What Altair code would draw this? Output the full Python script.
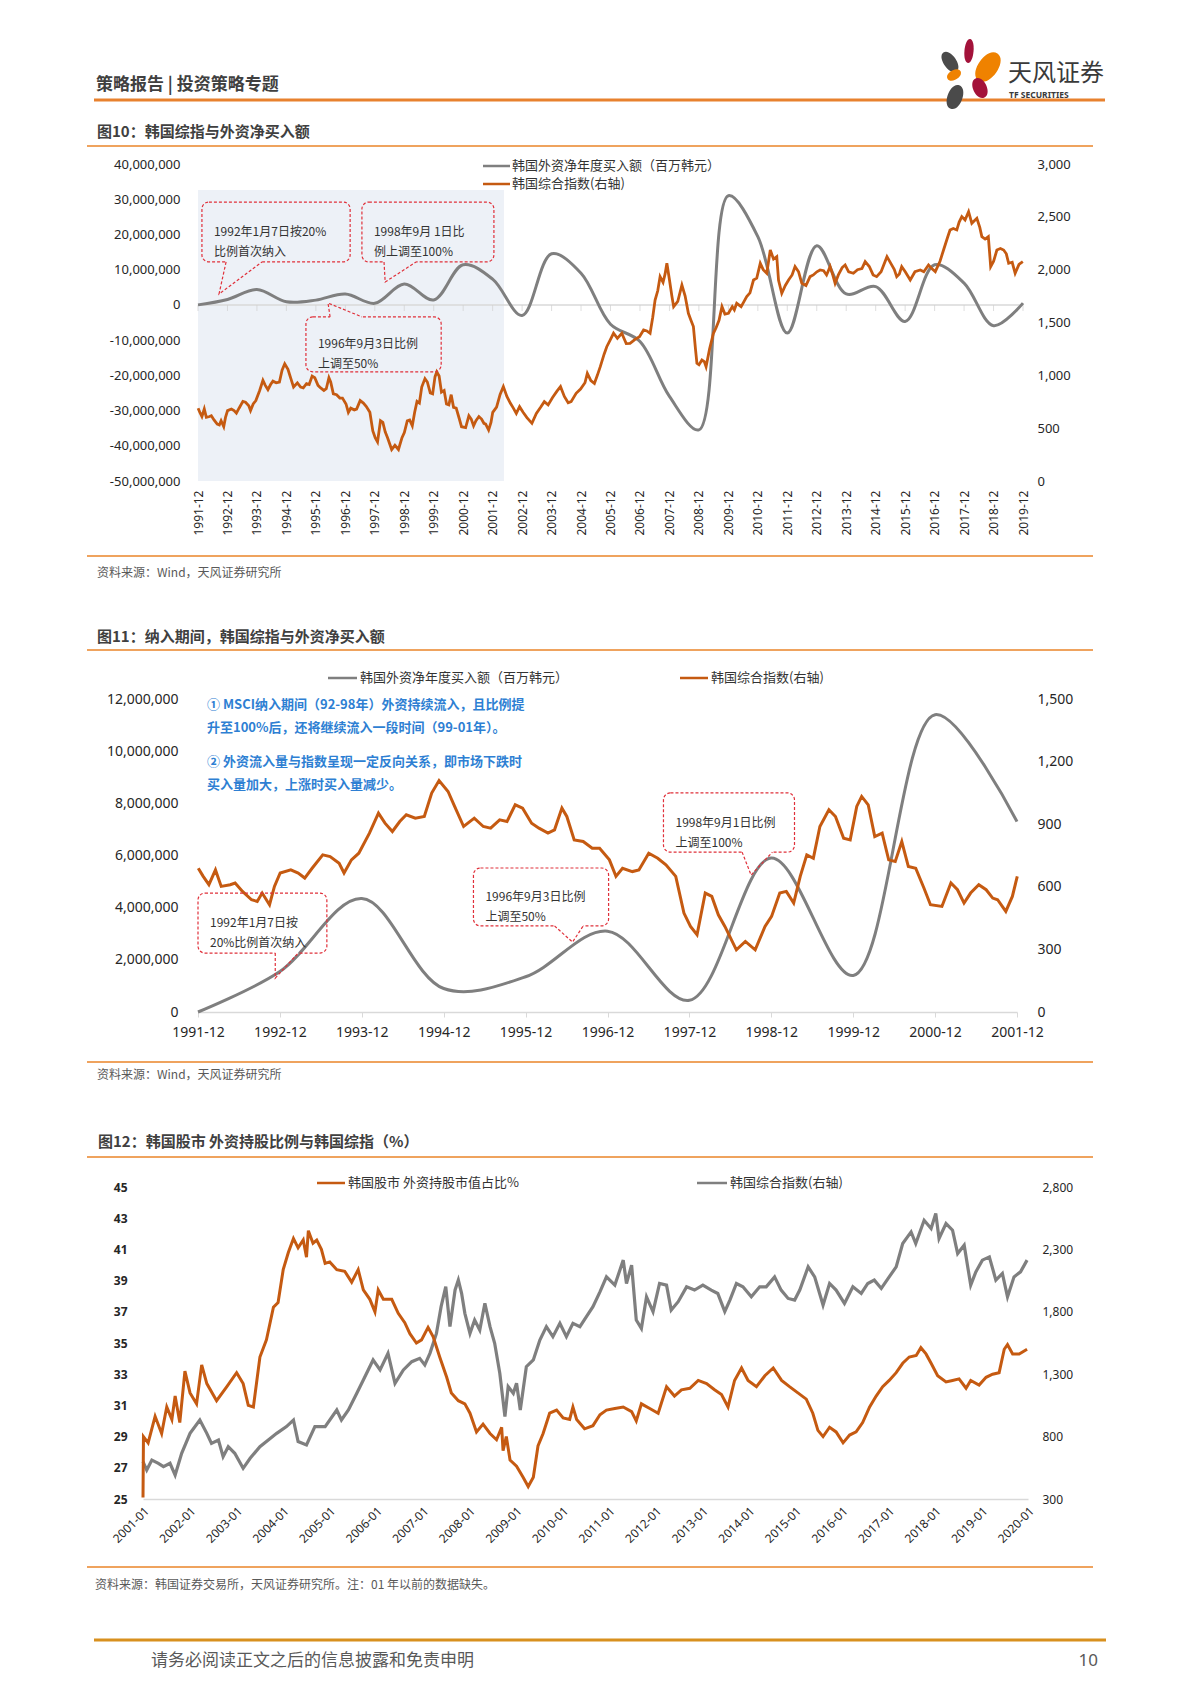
import altair as alt
import pandas as pd

CJK = "Noto Sans CJK SC"
NUM = "Noto Sans"
W = 1184
ORANGE = "#C55A11"
GRAY = "#7F7F7F"
RED = "#E0303A"
SHADE = "#EDF1F7"
LINE_OR = "#EFA35E"

# ---------------- data ----------------
net_buy_dates = ["1991-12", "1992-12", "1993-12", "1994-12", "1995-12", "1996-12", "1997-12",
                 "1998-12", "1999-12", "2000-12", "2001-12", "2002-12", "2003-12", "2004-12",
                 "2005-12", "2006-12", "2007-12", "2008-12", "2009-12", "2010-12", "2011-12",
                 "2012-12", "2013-12", "2014-12", "2015-12", "2016-12", "2017-12", "2018-12", "2019-12"]
net_buy_values = [0, 1550000, 4350000, 900000, 1350000, 3100000, 450000,
                  5900000, 1400000, 11400000, 7300000, -3000000, 14500000, 9000000,
                  -5500000, -10400000, -26000000, -35500000, 31000000, 19400000, -8000000,
                  16800000, 3100000, 5200000, -4700000, 11400000, 6200000, -5900000, 500000]

# KOSPI (monthly), time in decimal years
kospi_t = [1991.92, 1991.98, 1992.05, 1992.13, 1992.20, 1992.31, 1992.37, 1992.46, 1992.57, 1992.64,
           1992.70, 1992.79, 1992.85, 1992.92, 1993.05, 1993.14, 1993.22, 1993.31, 1993.44, 1993.53,
           1993.64, 1993.70, 1993.79, 1993.88, 1994.01, 1994.12, 1994.20, 1994.29, 1994.38, 1994.46,
           1994.57, 1994.68, 1994.77, 1994.86, 1994.97, 1995.05, 1995.16, 1995.29, 1995.40, 1995.49,
           1995.60, 1995.69, 1995.79, 1995.88, 1995.99, 1996.08, 1996.19, 1996.27, 1996.36, 1996.42,
           1996.51, 1996.62, 1996.73, 1996.82, 1996.94, 1997.02, 1997.10, 1997.22, 1997.30, 1997.42,
           1997.53, 1997.63, 1997.75, 1997.85, 1997.93, 1998.01, 1998.11, 1998.19, 1998.27, 1998.35,
           1998.49, 1998.60, 1998.72, 1998.84, 1998.92, 1999.02, 1999.10, 1999.19, 1999.27, 1999.35,
           1999.43, 1999.51, 1999.62, 1999.70, 1999.80, 1999.88, 1999.96, 2000.02, 2000.10, 2000.18,
           2000.27, 2000.35, 2000.43, 2000.51, 2000.59, 2000.68, 2000.78, 2000.86, 2001.00, 2001.11,
           2001.19, 2001.27, 2001.35, 2001.45, 2001.54, 2001.62, 2001.68, 2001.78, 2001.86, 2001.92,
           2002.05, 2002.17, 2002.28, 2002.40, 2002.52, 2002.62, 2002.72, 2002.83, 2002.95, 2003.08,
           2003.25, 2003.40, 2003.55, 2003.67, 2003.80, 2003.95, 2004.10, 2004.22, 2004.35, 2004.48,
           2004.58, 2004.75, 2004.90, 2005.05, 2005.13, 2005.25, 2005.37, 2005.47, 2005.57, 2005.70,
           2005.79, 2005.90, 2006.02, 2006.15, 2006.30, 2006.45, 2006.58, 2006.75, 2006.90, 2007.04,
           2007.15, 2007.26, 2007.35, 2007.43, 2007.52, 2007.60, 2007.70, 2007.77, 2007.83, 2007.92,
           2008.00, 2008.06, 2008.20, 2008.34, 2008.45, 2008.56, 2008.65, 2008.73, 2008.80, 2008.85,
           2008.92, 2009.02, 2009.10, 2009.16, 2009.28, 2009.41, 2009.50, 2009.60, 2009.70, 2009.80,
           2009.92, 2010.05, 2010.12, 2010.20, 2010.35, 2010.45, 2010.54, 2010.65, 2010.77, 2010.88,
           2011.00, 2011.10, 2011.22, 2011.34, 2011.45, 2011.56, 2011.62, 2011.73, 2011.85, 2011.96,
           2012.08, 2012.18, 2012.30, 2012.41, 2012.55, 2012.69, 2012.80, 2012.92, 2013.03, 2013.15,
           2013.25, 2013.37, 2013.46, 2013.54, 2013.65, 2013.78, 2013.88, 2014.00, 2014.16, 2014.30,
           2014.45, 2014.56, 2014.70, 2014.83, 2014.95, 2015.10, 2015.30, 2015.45, 2015.55, 2015.63,
           2015.72, 2015.80, 2015.92, 2016.09, 2016.25, 2016.43, 2016.55, 2016.71, 2016.82, 2016.94,
           2017.10, 2017.22, 2017.35, 2017.44, 2017.55, 2017.67, 2017.75, 2017.84, 2017.95, 2018.07,
           2018.18, 2018.35, 2018.45, 2018.52, 2018.63, 2018.74, 2018.82, 2018.92, 2019.03, 2019.15,
           2019.26, 2019.35, 2019.43, 2019.55, 2019.65, 2019.78, 2019.91]
kospi_v = [689, 650, 610, 681, 602, 610, 618, 578, 538, 530,
           570, 514, 602, 666, 681, 666, 642, 689, 753, 745,
           713, 666, 729, 761, 857, 953, 905, 865, 913, 945,
           929, 937, 1049, 1109, 1057, 985, 889, 929, 889, 881,
           921, 913, 993, 977, 905, 881, 857, 873, 977, 937,
           825, 817, 785, 785, 729, 650, 689, 673, 681, 761,
           737, 705, 650, 474, 410, 370, 570, 554, 466, 410,
           298, 338, 298, 410, 458, 570, 578, 522, 650, 753,
           737, 889, 969, 937, 833, 825, 985, 1033, 993, 841,
           857, 729, 721, 817, 697, 689, 594, 514, 506, 618,
           586, 522, 570, 610, 586, 546, 538, 482, 554, 650,
           700, 820, 893, 800, 735, 690, 640, 703, 650, 600,
           546, 640, 700, 751, 720, 790, 850, 893, 800, 740,
           751, 830, 870, 930, 1019, 950, 924, 1000, 1082, 1200,
           1271, 1330, 1398, 1350, 1398, 1300, 1303, 1340, 1366, 1429,
           1420, 1398, 1550, 1713, 1800, 1934, 1880, 1960, 2060, 1900,
           1750, 1650, 1700, 1855, 1750, 1587, 1520, 1461, 1250, 1114,
           1100, 1145, 1130, 1082, 1250, 1398, 1450, 1520, 1650, 1580,
           1587, 1650, 1620, 1682, 1650, 1700, 1745, 1780, 1902, 1920,
           2060, 2000, 1966, 2186, 2100, 2123, 1900, 1776, 1850, 1902,
           1950, 2029, 1980, 1871, 1850, 1934, 1950, 1980, 1997, 1990,
           1950, 2029, 1950, 1871, 1950, 2020, 2044, 1980, 1966, 2000,
           2010, 2076, 2030, 1950, 1934, 1980, 2123, 2050, 2000, 1934,
           1960, 2029, 1980, 1902, 1980, 1997, 1980, 2044, 2010, 1981,
           2080, 2186, 2300, 2376, 2390, 2376, 2450, 2502, 2470, 2549,
           2439, 2486, 2400, 2313, 2290, 2313, 2029, 2080, 2186, 2200,
           2186, 2150, 2060, 2070, 1966, 2050, 2076]

# Figure 12 (daily data)
own_t = [2001.00, 2001.01, 2001.11, 2001.26, 2001.40, 2001.51, 2001.62, 2001.69, 2001.79, 2001.90,
         2002.01, 2002.15, 2002.26, 2002.37, 2002.58, 2002.80, 2003.01, 2003.15, 2003.26, 2003.37,
         2003.51, 2003.65, 2003.80, 2003.90, 2004.01, 2004.12, 2004.23, 2004.33, 2004.44, 2004.51,
         2004.55, 2004.65, 2004.73, 2004.83, 2004.91, 2005.01, 2005.16, 2005.33, 2005.48, 2005.62,
         2005.73, 2005.87, 2005.98, 2006.05, 2006.16, 2006.34, 2006.48, 2006.62, 2006.73, 2006.87,
         2006.98, 2007.12, 2007.23, 2007.37, 2007.52, 2007.62, 2007.77, 2007.91, 2008.02, 2008.16,
         2008.30, 2008.45, 2008.59, 2008.70, 2008.73, 2008.80, 2008.88, 2009.02, 2009.16, 2009.27,
         2009.38, 2009.48, 2009.59, 2009.73, 2009.88, 2010.02, 2010.16, 2010.23, 2010.31, 2010.48,
         2010.66, 2010.81, 2010.95, 2011.13, 2011.31, 2011.49, 2011.59, 2011.70, 2011.88, 2012.06,
         2012.24, 2012.41, 2012.56, 2012.74, 2012.92, 2013.10, 2013.27, 2013.42, 2013.56, 2013.70,
         2013.85, 2013.99, 2014.17, 2014.35, 2014.53, 2014.71, 2014.88, 2015.06, 2015.24, 2015.38,
         2015.49, 2015.60, 2015.74, 2015.88, 2016.03, 2016.17, 2016.31, 2016.45, 2016.60, 2016.74,
         2016.88, 2017.02, 2017.17, 2017.31, 2017.45, 2017.60, 2017.70, 2017.81, 2017.92, 2018.06,
         2018.24, 2018.38, 2018.52, 2018.67, 2018.77, 2018.95, 2019.10, 2019.24, 2019.38, 2019.49,
         2019.56, 2019.67, 2019.81, 2019.98]
own_v = [25.1, 29.0, 28.6, 30.3, 29.2, 30.9, 30.1, 31.6, 29.9, 33.2,
         31.8, 31.1, 33.6, 32.4, 31.3, 32.2, 33.1, 32.4, 31.0, 30.9,
         34.1, 35.2, 37.3, 37.6, 39.7, 40.8, 41.7, 41.1, 41.6, 40.5,
         42.2, 41.4, 41.6, 41.0, 40.1, 40.2, 39.7, 39.6, 38.9, 39.7,
         38.4, 37.8, 37.0, 38.4, 37.8, 37.8, 36.9, 36.3, 35.6, 35.0,
         35.2, 36.0, 35.4, 34.1, 32.8, 31.8, 31.3, 31.1, 30.5, 29.3,
         29.8, 29.2, 28.8, 29.6, 28.1, 29.0, 27.5, 27.1, 26.4, 25.8,
         26.4, 28.4, 29.2, 30.5, 30.7, 30.2, 30.1, 30.9, 30.1, 29.5,
         29.7, 30.4, 30.7, 30.8, 30.9, 30.6, 30.0, 31.1, 30.8, 30.5,
         32.2, 31.6, 32.0, 32.1, 32.6, 32.4, 32.0, 31.7, 30.9, 32.6,
         33.4, 32.6, 32.2, 32.9, 33.4, 32.6, 32.2, 31.8, 31.4, 30.5,
         29.4, 29.0, 29.6, 29.3, 28.6, 29.1, 29.3, 29.9, 30.9, 31.6,
         32.2, 32.6, 33.1, 33.7, 34.1, 34.2, 34.7, 34.3, 33.7, 32.9,
         32.5, 32.6, 32.7, 32.1, 32.6, 32.3, 32.8, 33.0, 33.1, 34.6,
         34.9, 34.3, 34.3, 34.6]

kospi_d_t = [2001.00, 2001.08, 2001.19, 2001.33, 2001.44, 2001.58, 2001.69, 2001.83, 2002.01, 2002.22,
             2002.37, 2002.47, 2002.62, 2002.72, 2002.83, 2002.97, 2003.15, 2003.30, 2003.51, 2003.69,
             2003.87, 2004.08, 2004.23, 2004.33, 2004.51, 2004.69, 2004.91, 2005.16, 2005.26, 2005.41,
             2005.59, 2005.73, 2005.94, 2006.09, 2006.26, 2006.41, 2006.59, 2006.77, 2006.94, 2007.05,
             2007.16, 2007.30, 2007.40, 2007.50, 2007.59, 2007.70, 2007.77, 2007.84, 2007.91, 2008.02,
             2008.12, 2008.23, 2008.34, 2008.45, 2008.55, 2008.66, 2008.77, 2008.84, 2008.95, 2009.02,
             2009.10, 2009.23, 2009.38, 2009.52, 2009.66, 2009.80, 2009.95, 2010.09, 2010.23, 2010.38,
             2010.52, 2010.66, 2010.81, 2010.95, 2011.13, 2011.31, 2011.38, 2011.49, 2011.59, 2011.70,
             2011.81, 2011.95, 2012.09, 2012.24, 2012.34, 2012.49, 2012.67, 2012.84, 2013.02, 2013.20,
             2013.34, 2013.49, 2013.60, 2013.74, 2013.88, 2014.06, 2014.24, 2014.38, 2014.56, 2014.70,
             2014.85, 2014.99, 2015.10, 2015.28, 2015.42, 2015.60, 2015.74, 2015.88, 2016.06, 2016.24,
             2016.42, 2016.56, 2016.70, 2016.85, 2017.02, 2017.17, 2017.31, 2017.49, 2017.59, 2017.77,
             2017.92, 2018.02, 2018.09, 2018.24, 2018.38, 2018.49, 2018.63, 2018.77, 2018.88, 2019.02,
             2019.17, 2019.31, 2019.45, 2019.56, 2019.70, 2019.84, 2019.98]
kospi_d_v = [599, 532, 612, 586, 559, 586, 492, 666, 826, 933,
             826, 746, 773, 639, 719, 666, 546, 626, 719, 773,
             826, 880, 933, 760, 733, 880, 880, 1013, 933, 1013,
             1147, 1253, 1414, 1334, 1467, 1227, 1334, 1400, 1427, 1374,
             1467, 1627, 1841, 2001, 1681, 1975, 2055, 1948, 1788, 1627,
             1734, 1654, 1868, 1681, 1548, 1307, 960, 1200, 1147, 1227,
             1013, 1360, 1414, 1574, 1681, 1601, 1708, 1601, 1708, 1681,
             1761, 1841, 1960, 2080, 2014, 2214, 2027, 2174, 1734, 1667,
             1920, 1801, 2027, 2014, 1814, 1881, 2000, 1974, 2014, 1974,
             1947, 1801, 1894, 2027, 2000, 1920, 2000, 2000, 2080, 1974,
             1907, 1894, 1974, 2160, 2080, 1854, 2027, 1974, 1867, 2000,
             1947, 2027, 2054, 1987, 2080, 2160, 2347, 2440, 2347, 2533,
             2467, 2587, 2387, 2507, 2454, 2267, 2334, 2014, 2120, 2214,
             2240, 2054, 2107, 1920, 2080, 2120, 2214]


def ym(s):
    y, m = s.split("-")
    return int(y) + (int(m) - 1) / 12


net_t = [ym(d) for d in net_buy_dates]

# ---------------- helpers ----------------
def one():
    return pd.DataFrame({"d": [0]})


def txt(x, y, s, size=12, color="#333333", weight="normal", align="left", font=CJK):
    return alt.Chart(pd.DataFrame({"t": [s]})).mark_text(
        align=align, baseline="middle", fontSize=size, font=font, fontWeight=weight, color=color
    ).encode(x=alt.value(x), y=alt.value(y), text="t:N")


def hline(x1, x2, y, color, width=1.5):
    return alt.Chart(one()).mark_rule(color=color, strokeWidth=width).encode(
        x=alt.value(x1), x2=alt.value(x2), y=alt.value(y))


def petal(x, y, length, ratio, angle, color):
    # ratio = width / length of the petal
    c = ratio / 0.75
    path = f"M0,-1 C{c:.3f},-1 {c:.3f},1 0,1 C{-c:.3f},1 {-c:.3f},-1 0,-1 Z"
    return alt.Chart(one()).mark_point(shape=path, filled=True, color=color, size=length ** 2,
                                       angle=angle, opacity=1, strokeWidth=0).encode(
        x=alt.value(x), y=alt.value(y))


def callouts(boxes, xs, ys, cover):
    bdf = pd.DataFrame([{"id": i, "x1": b[0], "x2": b[1], "y1": b[2], "y2": b[3],
                         "ym": (b[2] + b[3]) / 2, "txt": b[5]} for i, b in enumerate(boxes)])
    cov = pd.DataFrame([{"id": i, "a": b[4][0][0], "b": b[4][2][0], "y": b[4][0][1]}
                        for i, b in enumerate(boxes)])
    tail = pd.DataFrame([{"id": i, "o": k, "x": p[0], "y": p[1]}
                         for i, b in enumerate(boxes) for k, p in enumerate(b[4])])
    rect = alt.Chart(bdf).mark_rect(fill="transparent", stroke=RED, strokeWidth=1.2,
                                    strokeDash=[3, 2], cornerRadius=7).encode(
        x=alt.X("x1:Q", scale=xs, axis=None), x2="x2:Q",
        y=alt.Y("y1:Q", scale=ys, axis=None), y2="y2:Q")
    cv = alt.Chart(cov).mark_rule(color=cover, strokeWidth=3).encode(
        x=alt.X("a:Q", scale=xs, axis=None), x2="b:Q", y=alt.Y("y:Q", scale=ys, axis=None))
    tl = alt.Chart(tail).mark_line(color=RED, strokeWidth=1.2, strokeDash=[3, 2]).encode(
        x=alt.X("x:Q", scale=xs, axis=None), y=alt.Y("y:Q", scale=ys, axis=None),
        order="o:Q", detail="id:N")
    tx = alt.Chart(bdf).mark_text(align="left", baseline="middle", dx=12, fontSize=12, font=CJK,
                                  lineBreak="\n", lineHeight=20, color="#333333").encode(
        x=alt.X("x1:Q", scale=xs, axis=None), y=alt.Y("ym:Q", scale=ys, axis=None), text="txt:N")
    return [rect, cv, tl, tx]


def fmt_expr():
    return "replace(format(datum.value, ','), '\u2212', '-')"


# ---------------- band 1: header + figure 10 ----------------
H1 = 592
X1 = alt.Scale(domain=[net_t[0], net_t[-1]], range=[190, 1015], nice=False, zero=False)
YL1 = alt.Scale(domain=[-50000000, 40000000], range=[473, 156], nice=False, zero=False)
YR1 = alt.Scale(domain=[0, 3000], range=[473, 156], nice=False, zero=False)

df_net = pd.DataFrame({"t": net_t, "v": net_buy_values})
df_k1 = pd.DataFrame({"t": kospi_t, "v": kospi_v})

shade = alt.Chart(pd.DataFrame({"a": [net_t[0]], "b": [2002.3], "lo": [-50000000], "hi": [32600000]})
                  ).mark_rect(color=SHADE).encode(
    x=alt.X("a:Q", scale=X1, axis=None), x2="b:Q",
    y=alt.Y("lo:Q", scale=YL1, axis=None), y2="hi:Q")
zero1 = alt.Chart(pd.DataFrame({"a": [net_t[0]], "b": [net_t[-1]], "y": [0]})).mark_rule(
    color="#D9D9D9", strokeWidth=1.5).encode(
    x=alt.X("a:Q", scale=X1, axis=None), x2="b:Q", y=alt.Y("y:Q", scale=YL1, axis=None))
ticks1 = alt.Chart(pd.DataFrame({"t": net_t, "y": [0] * len(net_t)})).mark_tick(
    orient="vertical", color="#D0D0D0", size=6, thickness=1, yOffset=3).encode(
    x=alt.X("t:Q", scale=X1, axis=None), y=alt.Y("y:Q", scale=YL1, axis=None))

gray1 = alt.Chart(df_net).mark_line(color=GRAY, strokeWidth=3, interpolate="catmull-rom").encode(
    x=alt.X("t:Q", scale=X1, axis=alt.Axis(
        orient="bottom", offset=473 - H1, values=net_t, labelExpr="floor(datum.value) + '-12'",
        labelAngle=270, labelAlign="right", labelBaseline="middle", labelPadding=9,
        labelFont=NUM, labelFontSize=12, labelColor="#262626", domain=False, ticks=False,
        tickSize=0, grid=False, title=None, labelOverlap=False, labelFlush=False)),
    y=alt.Y("v:Q", scale=YL1, axis=alt.Axis(
        orient="left", offset=-190, values=list(range(-50000000, 40000001, 10000000)),
        labelExpr=fmt_expr(), labelFont=NUM, labelFontSize=13, labelColor="#262626",
        labelPadding=18, domain=False, ticks=False, tickSize=0, grid=False, title=None,
        labelOverlap=False, labelFlush=False)))
orange1 = alt.Chart(df_k1).mark_line(color=ORANGE, strokeWidth=2.8).encode(
    x=alt.X("t:Q", scale=X1, axis=None),
    y=alt.Y("v:Q", scale=YR1, axis=alt.Axis(
        orient="right", offset=1015 - W, values=list(range(0, 3001, 500)),
        labelExpr=fmt_expr(), labelFont=NUM, labelFontSize=13, labelColor="#262626",
        labelPadding=14, domain=False, ticks=False, tickSize=0, grid=False, title=None,
        labelOverlap=False, labelFlush=False)))

boxes1 = [
    (1992.05, 1997.08, 12200000, 29200000,
     [(1992.87, 12200000), (1992.63, 3100000), (1994.09, 12200000)], "1992年1月7日按20%\n比例首次纳入"),
    (1997.48, 2001.96, 12200000, 29200000,
     [(1998.23, 12200000), (1998.27, 6500000), (1999.32, 12200000)], "1998年9月 1日比\n例上调至100%"),
    (1995.58, 2000.17, -19000000, -3400000,
     [(1996.40, -3400000), (1996.33, 500000), (1997.48, -3400000)], "1996年9月3日比例\n上调至50%"),
]

band1_layers = [
    txt(88, 77, "策略报告 | 投资策略专题", size=17, weight="bold", color="#404040"),
    hline(86, 1097, 92, "#E8812E", 3),
    petal(942, 54, 23, 0.55, 325, "#4A4A4A"),
    petal(961, 43, 24, 0.38, 5, "#A3123A"),
    petal(980, 59, 33, 0.6, 35, "#EF8200"),
    petal(946, 67, 15, 0.65, 60, "#EF8200"),
    petal(972, 80, 21, 0.65, 335, "#A3123A"),
    petal(947, 89, 25, 0.6, 20, "#4A4A4A"),
    txt(1000, 66, "天风证券", size=24, color="#3A3A3A"),
    txt(1001, 87, "TF SECURITIES", size=8.5, weight="bold", color="#3A3A3A", font=NUM),
    txt(89, 124, "图10：韩国综指与外资净买入额", size=15, weight="bold", color="#404040"),
    hline(79, 1085, 138, LINE_OR, 2),
    shade, zero1, ticks1, gray1, orange1,
] + callouts(boxes1, X1, YL1, SHADE) + [
    hline(475, 502, 158, GRAY, 2.5),
    txt(504, 158, "韩国外资净年度买入额（百万韩元）", size=13, color="#333333"),
    hline(475, 502, 176, ORANGE, 2.5),
    txt(504, 176, "韩国综合指数(右轴)", size=13, color="#333333"),
    hline(79, 1085, 548, LINE_OR, 2),
    txt(89, 565, "资料来源：Wind，天风证券研究所", size=12, color="#595959"),
]
band1 = alt.layer(*band1_layers).resolve_scale(x="independent", y="independent").properties(
    width=W, height=H1)

# ---------------- band 2: figure 11 ----------------
H2 = 500
t2_end = ym("2001-12")
X2 = alt.Scale(domain=[net_t[0], t2_end], range=[190, 1009], nice=False, zero=False)
YL2 = alt.Scale(domain=[0, 12000000], range=[412, 99], nice=False, zero=False)
YR2 = alt.Scale(domain=[0, 1500], range=[412, 99], nice=False, zero=False)

df_net2 = df_net[df_net["t"] <= t2_end + 0.001]
df_k2 = df_k1[df_k1["t"] <= t2_end + 0.01]

gray2 = alt.Chart(df_net2).mark_line(color=GRAY, strokeWidth=3, interpolate="catmull-rom").encode(
    x=alt.X("t:Q", scale=X2, axis=alt.Axis(
        orient="bottom", offset=412 - H2, values=net_t[:11], labelExpr="floor(datum.value) + '-12'",
        labelAngle=0, labelPadding=8, labelFont=NUM, labelFontSize=14, labelColor="#262626",
        domain=True, domainColor="#D9D9D9", domainWidth=1.5, ticks=True, tickColor="#D9D9D9",
        tickSize=5, grid=False, title=None, labelOverlap=False, labelFlush=False)),
    y=alt.Y("v:Q", scale=YL2, axis=alt.Axis(
        orient="left", offset=-190, values=list(range(0, 12000001, 2000000)),
        labelExpr=fmt_expr(), labelFont=NUM, labelFontSize=14, labelColor="#262626",
        labelPadding=20, domain=False, ticks=False, tickSize=0, grid=False, title=None,
        labelOverlap=False, labelFlush=False)))
orange2 = alt.Chart(df_k2).mark_line(color=ORANGE, strokeWidth=3).encode(
    x=alt.X("t:Q", scale=X2, axis=None),
    y=alt.Y("v:Q", scale=YR2, axis=alt.Axis(
        orient="right", offset=1009 - W, values=list(range(0, 1501, 300)),
        labelExpr=fmt_expr(), labelFont=NUM, labelFontSize=14, labelColor="#262626",
        labelPadding=20, domain=False, ticks=False, tickSize=0, grid=False, title=None,
        labelOverlap=False, labelFlush=False)))

boxes2 = [
    (net_t[0], 1993.49, 2260000, 4560000,
     [(1992.86, 2260000), (1992.86, 1300000), (1993.14, 2260000)], "1992年1月7日按\n20%比例首次纳入"),
    (1995.28, 1996.93, 3300000, 5520000,
     [(1996.27, 3300000), (1996.49, 2680000), (1996.62, 3300000)], "1996年9月3日比例\n上调至50%"),
    (1997.60, 1999.20, 6130000, 8400000,
     [(1998.56, 6130000), (1998.67, 5250000), (1998.93, 6130000)], "1998年9月1日比例\n上调至100%"),
]

BLUE = "#2E7FD3"
band2_layers = [
    txt(89, 37, "图11：纳入期间，韩国综指与外资净买入额", size=15, weight="bold", color="#404040"),
    hline(79, 1085, 50, LINE_OR, 2),
    hline(320, 349, 78, GRAY, 2.5),
    txt(352, 78, "韩国外资净年度买入额（百万韩元）", size=13, color="#333333"),
    hline(672, 700, 78, ORANGE, 2.5),
    txt(703, 78, "韩国综合指数(右轴)", size=13, color="#333333"),
    txt(199, 105, "① MSCI纳入期间（92-98年）外资持续流入，且比例提", size=13, weight="bold", color=BLUE),
    txt(199, 128, "升至100%后，还将继续流入一段时间（99-01年）。", size=13, weight="bold", color=BLUE),
    txt(199, 162, "② 外资流入量与指数呈现一定反向关系，即市场下跌时", size=13, weight="bold", color=BLUE),
    txt(199, 185, "买入量加大，上涨时买入量减少。", size=13, weight="bold", color=BLUE),
    gray2, orange2,
] + callouts(boxes2, X2, YL2, "white") + [
    hline(79, 1085, 462, LINE_OR, 2),
    txt(89, 475, "资料来源：Wind，天风证券研究所", size=12, color="#595959"),
]
band2 = alt.layer(*band2_layers).resolve_scale(x="independent", y="independent").properties(
    width=W, height=H2)

# ---------------- band 3: figure 12 + footer ----------------
H3 = 590
X3 = alt.Scale(domain=[2001, 2020], range=[135, 1020], nice=False, zero=False)
YL3 = alt.Scale(domain=[25, 45], range=[399, 87], nice=False, zero=False)
YR3 = alt.Scale(domain=[300, 2800], range=[399, 87], nice=False, zero=False)

df_own = pd.DataFrame({"t": own_t, "v": own_v})
df_kd = pd.DataFrame({"t": kospi_d_t, "v": kospi_d_v})

orange3 = alt.Chart(df_own).mark_line(color=ORANGE, strokeWidth=3).encode(
    x=alt.X("t:Q", scale=X3, axis=alt.Axis(
        orient="bottom", offset=399 - H3, values=list(range(2001, 2021)),
        labelExpr="datum.value + '-01'", labelAngle=315, labelAlign="right", labelBaseline="top",
        labelPadding=6, labelFont=NUM, labelFontSize=12, labelColor="#262626",
        domain=True, domainColor="#D9D9D9", domainWidth=1.5, ticks=False, tickSize=0,
        grid=False, title=None, labelOverlap=False, labelFlush=False)),
    y=alt.Y("v:Q", scale=YL3, axis=alt.Axis(
        orient="left", offset=-135, values=list(range(25, 46, 2)),
        labelFont=NUM, labelFontSize=12, labelFontWeight="bold", labelColor="#262626",
        labelPadding=16, domain=False, ticks=False, tickSize=0, grid=False, title=None,
        labelOverlap=False, labelFlush=False)))
gray3 = alt.Chart(df_kd).mark_line(color=GRAY, strokeWidth=3.2).encode(
    x=alt.X("t:Q", scale=X3, axis=None),
    y=alt.Y("v:Q", scale=YR3, axis=alt.Axis(
        orient="right", offset=1020 - W, values=list(range(300, 2801, 500)),
        labelExpr=fmt_expr(), labelFont=NUM, labelFontSize=12, labelColor="#262626",
        labelPadding=14, domain=False, ticks=False, tickSize=0, grid=False, title=None,
        labelOverlap=False, labelFlush=False)))

band3_layers = [
    txt(90, 42, "图12：韩国股市 外资持股比例与韩国综指（%）", size=15, weight="bold", color="#404040"),
    hline(79, 1085, 57, LINE_OR, 2),
    hline(309, 337, 83, ORANGE, 2.5),
    txt(340, 83, "韩国股市 外资持股市值占比%", size=13, color="#333333"),
    hline(689, 719, 83, GRAY, 2.5),
    txt(722, 83, "韩国综合指数(右轴)", size=13, color="#333333"),
    gray3, orange3,
    hline(79, 1085, 467, LINE_OR, 2),
    txt(87, 485, "资料来源：韩国证券交易所，天风证券研究所。注：01 年以前的数据缺失。", size=12, color="#595959"),
    hline(86, 1098, 540, "#D8901E", 3),
    txt(143, 561, "请务必阅读正文之后的信息披露和免责申明", size=17, color="#595959"),
    txt(1090, 561, "10", size=17, color="#595959", align="right", font=NUM),
]
band3 = alt.layer(*band3_layers).resolve_scale(x="independent", y="independent").properties(
    width=W, height=H3)

chart = alt.vconcat(band1, band2, band3, spacing=0, bounds="flush").properties(
    padding=0, background="white").configure_view(stroke=None)

chart.save("out.html", embed_options={"renderer": "svg", "actions": False})
